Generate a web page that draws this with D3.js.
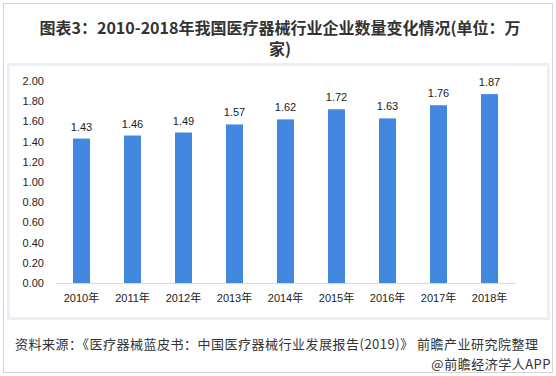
<!DOCTYPE html>
<html>
<head>
<meta charset="utf-8">
<script src="https://cdn.jsdelivr.net/npm/d3@7"></script>
<style>
  body { margin: 0; background: #fff; }
  svg { display: block; }
</style>
</head>
<body>
<svg width="556" height="376"></svg>
<script>
// Chart data
const years = ["2010年", "2011年", "2012年", "2013年", "2014年", "2015年", "2016年", "2017年", "2018年"];
const counts = [1.43, 1.46, 1.49, 1.57, 1.62, 1.72, 1.63, 1.76, 1.87];
const yTicks = [0, 0.2, 0.4, 0.6, 0.8, 1.0, 1.2, 1.4, 1.6, 1.8, 2.0];

const titleLines = ["图表3：2010-2018年我国医疗器械行业企业数量变化情况(单位：万", "家)"];
const sourceText = "资料来源：《医疗器械蓝皮书：中国医疗器械行业发展报告(2019)》 前瞻产业研究院整理";
const creditText = "@前瞻经济学人APP";

const cjk = "'Noto Sans CJK SC', 'Microsoft YaHei', sans-serif";
const num = "'Liberation Sans', Arial, " + cjk;

const svg = d3.select("svg");

// Outer frame
svg.append("rect")
    .attr("x", 3.5).attr("y", 3.5)
    .attr("width", 549).attr("height", 369)
    .attr("fill", "#fff")
    .attr("stroke", "#d4d4d4");

// Inner panel with light blue border
svg.append("rect")
    .attr("x", 8.5).attr("y", 64.5)
    .attr("width", 540).attr("height", 254)
    .attr("fill", "#fff")
    .attr("stroke", "#eaf0f9")
    .attr("stroke-width", 3);

// Title, wrapped over two lines
svg.selectAll("text.title")
    .data(titleLines)
    .join("text")
    .attr("class", "title")
    .attr("x", 280)
    .attr("y", (d, i) => 34 + i * 21)
    .attr("text-anchor", "middle")
    .style("font-family", cjk)
    .style("font-size", "16px")
    .style("font-weight", "bold")
    .style("fill", "#333")
    .text(d => d);

// Scales
const x = d3.scaleBand()
    .domain(years)
    .range([56, 515])
    .paddingInner(0.667)
    .paddingOuter(0.333);

const y = d3.scaleLinear()
    .domain([0, 2])
    .range([283, 81]);

// Y axis labels (no line)
const yAxis = svg.append("g")
    .attr("transform", "translate(47,0)")
    .call(d3.axisLeft(y).tickValues(yTicks).tickSize(0).tickPadding(3).tickFormat(d3.format(".2f")));
yAxis.select(".domain").remove();
yAxis.selectAll("text")
    .style("font-family", num)
    .style("font-size", "11px")
    .style("fill", "#222");

// X axis
const xAxis = svg.append("g")
    .attr("transform", "translate(0,283)")
    .call(d3.axisBottom(x).tickSize(0).tickPadding(11).tickSizeOuter(0));
xAxis.select(".domain")
    .attr("stroke", "#d9d9d9");
xAxis.selectAll("text")
    .style("font-family", num)
    .style("font-size", "11px")
    .style("fill", "#222");

// Bars
svg.append("g")
    .selectAll("rect")
    .data(counts)
    .join("rect")
    .attr("x", (d, i) => x(years[i]))
    .attr("y", d => y(d))
    .attr("width", x.bandwidth())
    .attr("height", d => y(0) - y(d))
    .attr("fill", "#4287e0");

// Value labels
svg.append("g")
    .selectAll("text")
    .data(counts)
    .join("text")
    .attr("x", (d, i) => x(years[i]) + x.bandwidth() / 2)
    .attr("y", d => y(d) - 8)
    .attr("text-anchor", "middle")
    .style("font-family", num)
    .style("font-size", "11px")
    .style("fill", "#222")
    .text(d => d.toFixed(2));

// Source and credit
svg.append("text")
    .attr("x", 15).attr("y", 349)
    .style("font-family", cjk)
    .style("font-size", "13px")
    .style("letter-spacing", "0.5px")
    .style("fill", "#333")
    .text(sourceText);

svg.append("text")
    .attr("x", 551).attr("y", 369)
    .attr("text-anchor", "end")
    .style("font-family", cjk)
    .style("font-size", "13px")
    .style("letter-spacing", "0.5px")
    .style("fill", "#333")
    .text(creditText);
</script>
</body>
</html>
